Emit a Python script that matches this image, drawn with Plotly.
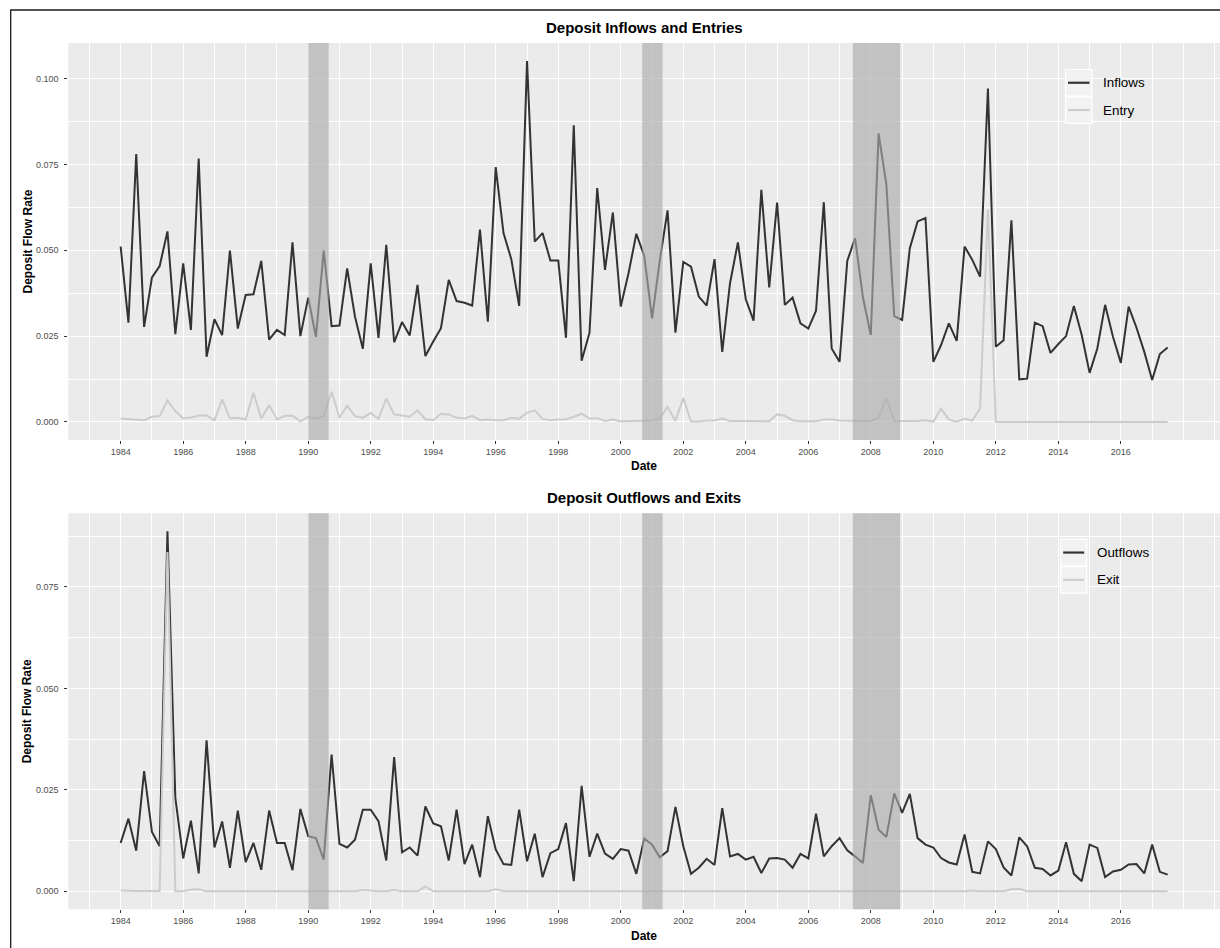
import pandas as pd
import plotly.graph_objects as go

W, H = 1220, 948

# ---------------- data (quarterly, 1984Q1 .. 2017Q3) ----------------
dates = pd.date_range("1984-01-01", "2017-07-01", freq="QS")

inflows = [
    0.0511, 0.0289, 0.0780, 0.0277,
    0.0421, 0.0454, 0.0555, 0.0256,
    0.0462, 0.0268, 0.0767, 0.0190,
    0.0299, 0.0253, 0.0499, 0.0272,
    0.0370, 0.0372, 0.0469, 0.0240,
    0.0268, 0.0253, 0.0523, 0.0250,
    0.0362, 0.0248, 0.0499, 0.0279,
    0.0281, 0.0447, 0.0307, 0.0213,
    0.0462, 0.0245, 0.0516, 0.0232,
    0.0291, 0.0252, 0.0399, 0.0192,
    0.0234, 0.0273, 0.0414, 0.0352,
    0.0347, 0.0339, 0.0560, 0.0292,
    0.0742, 0.0550, 0.0474, 0.0338,
    0.1051, 0.0525, 0.0550, 0.0470,
    0.0470, 0.0245, 0.0864, 0.0178,
    0.0260, 0.0681, 0.0443, 0.0610,
    0.0336, 0.0433, 0.0548, 0.0484,
    0.0302, 0.0470, 0.0616, 0.0260,
    0.0466, 0.0452, 0.0365, 0.0339,
    0.0474, 0.0204, 0.0404, 0.0523,
    0.0357, 0.0295, 0.0676, 0.0392,
    0.0639, 0.0341, 0.0362, 0.0287,
    0.0272, 0.0324, 0.0640, 0.0214,
    0.0175, 0.0469, 0.0535, 0.0363,
    0.0253, 0.0840, 0.0691, 0.0308,
    0.0297, 0.0506, 0.0584, 0.0594,
    0.0175, 0.0224, 0.0287, 0.0236,
    0.0511, 0.0472, 0.0423, 0.0971,
    0.0219, 0.0238, 0.0587, 0.0124,
    0.0126, 0.0289, 0.0279, 0.0201,
    0.0227, 0.0250, 0.0338, 0.0253,
    0.0143, 0.0214, 0.0341, 0.0248,
    0.0172, 0.0336, 0.0275, 0.0204,
    0.0122, 0.0198, 0.0217,
]

entry = [
    0.0010, 0.0009, 0.0008, 0.0005,
    0.0015, 0.0017, 0.0063, 0.0032,
    0.0010, 0.0013, 0.0019, 0.0019,
    0.0005, 0.0066, 0.0010, 0.0012,
    0.0007, 0.0085, 0.0010, 0.0049,
    0.0007, 0.0018, 0.0018, 0.0002,
    0.0015, 0.0010, 0.0017, 0.0088,
    0.0012, 0.0047, 0.0017, 0.0012,
    0.0026, 0.0009, 0.0068, 0.0022,
    0.0019, 0.0015, 0.0034, 0.0008,
    0.0005, 0.0024, 0.0022, 0.0012,
    0.0010, 0.0018, 0.0005, 0.0007,
    0.0005, 0.0005, 0.0012, 0.0009,
    0.0027, 0.0034, 0.0009, 0.0005,
    0.0007, 0.0008, 0.0015, 0.0024,
    0.0010, 0.0011, 0.0003, 0.0007,
    0.0002, 0.0003, 0.0003, 0.0004,
    0.0004, 0.0010, 0.0044, 0.0003,
    0.0070, 0.0001, 0.0001, 0.0004,
    0.0004, 0.0010, 0.0003, 0.0003,
    0.0004, 0.0003, 0.0002, 0.0002,
    0.0022, 0.0018, 0.0005, 0.0002,
    0.0002, 0.0002, 0.0007, 0.0007,
    0.0004, 0.0003, 0.0003, 0.0003,
    0.0003, 0.0012, 0.0070, 0.0002,
    0.0003, 0.0002, 0.0003, 0.0005,
    0.0001, 0.0039, 0.0007, 0.0001,
    0.0009, 0.0004, 0.0039, 0.0618,
    0.0000, 0.0000, 0.0000, 0.0000,
    0.0001, 0.0001, 0.0000, 0.0000,
    0.0000, 0.0000, 0.0000, 0.0000,
    0.0000, 0.0000, 0.0000, 0.0000,
    0.0000, 0.0000, 0.0001, 0.0000,
    0.0000, 0.0000, 0.0000,
]

outflows = [
    0.0119, 0.0179, 0.0100, 0.0296,
    0.0146, 0.0111, 0.0887, 0.0230,
    0.0081, 0.0174, 0.0044, 0.0372,
    0.0108, 0.0172, 0.0058, 0.0199,
    0.0072, 0.0119, 0.0053, 0.0199,
    0.0119, 0.0119, 0.0052, 0.0203,
    0.0136, 0.0131, 0.0078, 0.0337,
    0.0117, 0.0108, 0.0127, 0.0201,
    0.0201, 0.0173, 0.0076, 0.0331,
    0.0096, 0.0108, 0.0088, 0.0209,
    0.0167, 0.0160, 0.0076, 0.0201,
    0.0067, 0.0115, 0.0035, 0.0185,
    0.0103, 0.0067, 0.0065, 0.0201,
    0.0074, 0.0142, 0.0035, 0.0094,
    0.0104, 0.0168, 0.0025, 0.0260,
    0.0085, 0.0142, 0.0093, 0.0080,
    0.0104, 0.0100, 0.0043, 0.0130,
    0.0115, 0.0084, 0.0099, 0.0208,
    0.0111, 0.0043, 0.0058, 0.0080,
    0.0065, 0.0205, 0.0086, 0.0092,
    0.0078, 0.0085, 0.0045, 0.0081,
    0.0082, 0.0078, 0.0058, 0.0092,
    0.0081, 0.0191, 0.0086, 0.0111,
    0.0131, 0.0101, 0.0086, 0.0070,
    0.0237, 0.0152, 0.0134, 0.0241,
    0.0193, 0.0240, 0.0131, 0.0115,
    0.0108, 0.0082, 0.0071, 0.0066,
    0.0140, 0.0048, 0.0044, 0.0123,
    0.0104, 0.0059, 0.0039, 0.0133,
    0.0111, 0.0058, 0.0055, 0.0039,
    0.0051, 0.0121, 0.0043, 0.0025,
    0.0115, 0.0107, 0.0035, 0.0049,
    0.0053, 0.0066, 0.0067, 0.0044,
    0.0115, 0.0048, 0.0041,
]

exits = [
    0.0002, 0.0001, 0.0001, 0.0001,
    0.0001, 0.0001, 0.0836, 0.0000,
    0.0001, 0.0004, 0.0005, 0.0000,
    0.0000, 0.0000, 0.0000, 0.0000,
    0.0000, 0.0000, 0.0000, 0.0000,
    0.0000, 0.0000, 0.0000, 0.0000,
    0.0000, 0.0000, 0.0000, 0.0000,
    0.0000, 0.0000, 0.0000, 0.0003,
    0.0001, 0.0000, 0.0000, 0.0003,
    0.0000, 0.0000, 0.0000, 0.0012,
    0.0000, 0.0000, 0.0000, 0.0000,
    0.0000, 0.0000, 0.0000, 0.0000,
    0.0005, 0.0000, 0.0000, 0.0000,
    0.0000, 0.0000, 0.0000, 0.0000,
    0.0000, 0.0000, 0.0000, 0.0000,
    0.0001, 0.0000, 0.0000, 0.0000,
    0.0000, 0.0000, 0.0000, 0.0000,
    0.0000, 0.0000, 0.0000, 0.0000,
    0.0000, 0.0000, 0.0000, 0.0000,
    0.0000, 0.0000, 0.0000, 0.0000,
    0.0000, 0.0000, 0.0000, 0.0000,
    0.0000, 0.0000, 0.0000, 0.0000,
    0.0000, 0.0000, 0.0000, 0.0000,
    0.0000, 0.0000, 0.0000, 0.0000,
    0.0000, 0.0000, 0.0000, 0.0000,
    0.0000, 0.0000, 0.0000, 0.0000,
    0.0000, 0.0000, 0.0000, 0.0000,
    0.0000, 0.0002, 0.0000, 0.0000,
    0.0000, 0.0000, 0.0005, 0.0006,
    0.0000, 0.0000, 0.0000, 0.0000,
    0.0000, 0.0000, 0.0000, 0.0000,
    0.0000, 0.0000, 0.0000, 0.0000,
    0.0000, 0.0000, 0.0000, 0.0000,
    0.0000, 0.0000, 0.0000,
]

recessions = [("1990-01-01", "1990-08-28"),
              ("2000-09-08", "2001-05-04"),
              ("2007-06-05", "2008-12-08")]

year_ticks = [str(y) for y in range(1984, 2017, 2)]
titles = ["Deposit Inflows and Entries", "Deposit Outflows and Exits"]
legend_names = [["Inflows", "Entry"], ["Outflows", "Exit"]]
x_title = "Date"
y_title = "Deposit Flow Rate"

# ---------------- styling ----------------
FONT = "Liberation Sans, Arial, Helvetica, sans-serif"
DARK = "#333333"
LIGHT = "#CCCCCC"
PANEL_BG = "#EBEBEB"
BAND = "rgba(171,171,171,0.64)"


def X(px):
    return px / W


def Y(py):
    return 1 - py / H


# panel pixel geometry
left, right = 68.3, 1220.0
panels = [(43.0, 440.0), (513.3, 909.3)]


def expand(lo, hi, f=0.05):
    s = hi - lo
    return [lo - f * s, hi + f * s]


t0, t1 = dates[0], dates[-1]
span = t1 - t0
x_range = [t0 - span * 0.05, t1 + span * 0.05]

fig = go.Figure()

series = [(inflows, entry), (outflows, exits)]
for i, (dark_vals, light_vals) in enumerate(series):
    xa = "x" if i == 0 else "x2"
    ya = "y" if i == 0 else "y2"
    fig.add_trace(go.Scatter(x=dates, y=dark_vals, mode="lines", name=legend_names[i][0],
                             line=dict(color=DARK, width=2), xaxis=xa, yaxis=ya,
                             showlegend=False))
    fig.add_trace(go.Scatter(x=dates, y=light_vals, mode="lines", name=legend_names[i][1],
                             line=dict(color=LIGHT, width=2), xaxis=xa, yaxis=ya,
                             showlegend=False))

axis_common = dict(
    showline=False, zeroline=False, ticks="outside", ticklen=3, tickwidth=1,
    tickcolor=DARK, gridcolor="white", gridwidth=1.4,
    tickfont=dict(family=FONT, size=9, color="#4D4D4D"),
)

layout_axes = {}
for i, (top, bot) in enumerate(panels):
    sfx = "" if i == 0 else str(i + 1)
    vals = series[i][0] + series[i][1]
    yr = expand(min(vals), max(vals))
    layout_axes["xaxis" + sfx] = dict(
        axis_common, domain=[X(left), X(right)], anchor="y" + sfx, type="date",
        range=x_range, tickmode="array",
        tickvals=[f"{y}-01-01" for y in year_ticks], ticktext=year_ticks,
        minor=dict(tickmode="linear", tick0="1983-01-01", dtick="M12",
                   showgrid=True, gridcolor="white", gridwidth=0.7, ticks=""),
    )
    layout_axes["yaxis" + sfx] = dict(
        axis_common, domain=[Y(bot), Y(top)], anchor="x" + sfx, range=yr,
        tickmode="linear", tick0=0, dtick=0.025, tickformat=".3f",
        ticklabelstandoff=4,
        minor=dict(tickmode="linear", tick0=0.0125, dtick=0.025,
                   showgrid=True, gridcolor="white", gridwidth=0.7, ticks=""),
    )

shapes = []
annotations = []
for i, (top, bot) in enumerate(panels):
    sfx = "" if i == 0 else str(i + 1)
    # panel background
    shapes.append(dict(type="rect", xref="paper", yref="paper", layer="below",
                       x0=X(left), x1=X(right), y0=Y(bot), y1=Y(top),
                       fillcolor=PANEL_BG, line=dict(width=0)))
    # recession bands (drawn above the lines)
    for a, b in recessions:
        shapes.append(dict(type="rect", xref="x" + sfx, yref="y" + sfx + " domain",
                           x0=a, x1=b, y0=0, y1=1, layer="above",
                           fillcolor=BAND, line=dict(width=0)))
    cx = (left + right) / 2
    annotations.append(dict(text=f"<b>{titles[i]}</b>", x=X(cx), y=Y(top - 16),
                            xref="paper", yref="paper", showarrow=False,
                            xanchor="center", yanchor="middle",
                            font=dict(family=FONT, size=15, color="black")))
    annotations.append(dict(text=f"<b>{x_title}</b>", x=X(cx), y=Y(bot + 26.5),
                            xref="paper", yref="paper", showarrow=False,
                            xanchor="center", yanchor="middle",
                            font=dict(family=FONT, size=12, color="black")))
    annotations.append(dict(text=f"<b>{y_title}</b>", x=X(27), y=Y((top + bot) / 2),
                            xref="paper", yref="paper", showarrow=False, textangle=-90,
                            xanchor="center", yanchor="middle",
                            font=dict(family=FONT, size=12, color="black")))

# legends (drawn as keys + text)
legend_geo = [  # key box left, right, first box top, box height, text x
    (1065.5, 1092.0, 69.5, 26.5, 1100.5),
    (1060.7, 1086.7, 539.3, 26.5, 1095.0),
]
for i, (kx0, kx1, ky0, kh, tx) in enumerate(legend_geo):
    for j, col in enumerate([DARK, LIGHT]):
        y0 = ky0 + j * (kh + 0.8)
        y1 = y0 + kh
        ym = (y0 + y1) / 2
        shapes.append(dict(type="rect", xref="paper", yref="paper", layer="above",
                           x0=X(kx0), x1=X(kx1), y0=Y(y1), y1=Y(y0),
                           fillcolor="#F2F2F2", line=dict(color="white", width=1.2)))
        shapes.append(dict(type="line", xref="paper", yref="paper", layer="above",
                           x0=X(kx0 + 2.5), x1=X(kx1 - 2.5), y0=Y(ym), y1=Y(ym),
                           line=dict(color=col, width=2.2)))
        annotations.append(dict(text=legend_names[i][j], x=X(tx), y=Y(ym),
                                xref="paper", yref="paper", showarrow=False,
                                xanchor="left", yanchor="middle",
                                font=dict(family=FONT, size=13.4, color="black")))

# outer frame (top and left edges; the image is cropped at right/bottom)
shapes.append(dict(type="path", xref="paper", yref="paper", layer="above",
                   path=f"M {X(10.7)},{-0.05} L {X(10.7)},{Y(10)} L {1.05},{Y(10)}",
                   line=dict(color="#1a1a1a", width=1.3)))

fig.update_layout(
    width=W, height=H, margin=dict(l=0, r=0, t=0, b=0),
    paper_bgcolor="white", plot_bgcolor="rgba(0,0,0,0)",
    font=dict(family=FONT), showlegend=False,
    shapes=shapes, annotations=annotations, **layout_axes,
)

fig.write_html(
    "out.html",
    config={"displayModeBar": False},
    post_script="document.body.style.margin='0';document.body.style.overflow='hidden';",
)
